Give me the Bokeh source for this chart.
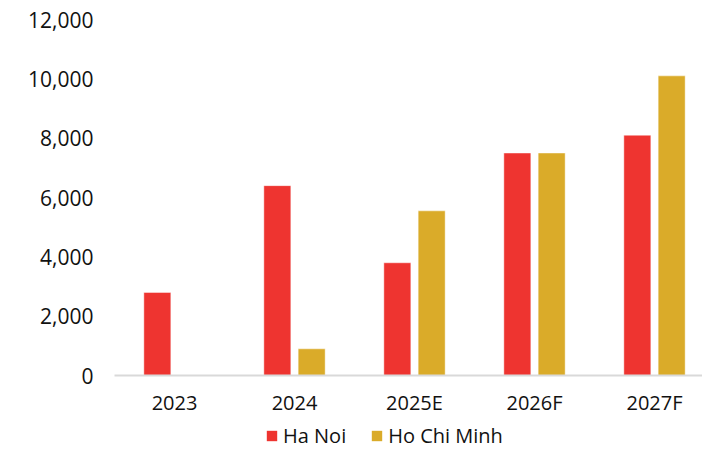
from bokeh.plotting import figure
from bokeh.layouts import column
from bokeh.models import (ColumnDataSource, Range1d, NumeralTickFormatter, FixedTicker,
                          Legend, LegendItem)
from bokeh.transform import dodge
from bokeh.embed import file_html
from bokeh.resources import INLINE

categories = ["2023", "2024", "2025E", "2026F", "2027F"]
ha_noi = [2800, 6400, 3800, 7500, 8100]
ho_chi_minh = [0, 900, 5550, 7500, 10100]
y_ticks = [0, 2000, 4000, 6000, 8000, 10000, 12000]
series_names = ["Ha Noi", "Ho Chi Minh"]

RED = "#EE3430"
GOLD = "#DAAB29"
FONT = "Open Sans"
TXT = "#111111"

src = ColumnDataSource(dict(
    x=list(range(len(categories))),
    hn=ha_noi,
    hcm=ho_chi_minh,
))

p = figure(width=702, height=422, output_backend="svg", toolbar_location=None,
           x_range=Range1d(-0.5, 4.4), y_range=Range1d(0, 12000),
           min_border_left=114, min_border_right=0, min_border_top=19,
           min_border_bottom=47)
p.outline_line_color = None
p.xgrid.visible = False
p.ygrid.visible = False

p.vbar(x=dodge("x", -0.143, range=p.x_range), top="hn", width=0.225, source=src,
       fill_color=RED, line_color="white", line_alpha=0.45, line_width=1)
p.vbar(x=dodge("x", 0.143, range=p.x_range), top="hcm", width=0.225, source=src,
       fill_color=GOLD, line_color="white", line_alpha=0.45, line_width=1)

xa = p.xaxis[0]
xa.ticker = FixedTicker(ticks=list(range(len(categories))))
xa.major_label_overrides = {i: c for i, c in enumerate(categories)}
xa.axis_line_color = "#D9D9D9"
xa.axis_line_width = 2
xa.major_tick_line_color = None
xa.minor_tick_line_color = None
xa.major_tick_out = 0
xa.major_label_standoff = 13
xa.major_label_text_font = FONT
xa.major_label_text_font_size = "20px"
xa.major_label_text_color = TXT

ya = p.yaxis[0]
ya.ticker = FixedTicker(ticks=y_ticks)
ya.formatter = NumeralTickFormatter(format="0,0")
ya.axis_line_color = None
ya.major_tick_line_color = None
ya.minor_tick_line_color = None
ya.major_tick_out = 0
ya.major_label_standoff = 21
ya.major_label_text_font = FONT
ya.major_label_text_font_size = "21px"
ya.major_label_text_color = TXT

# legend strip below the chart (frames are aligned with the chart above)
q = figure(width=702, height=27, output_backend="svg", toolbar_location=None,
           x_axis_type=None, y_axis_type=None, min_border=0,
           x_range=Range1d(0, 1), y_range=Range1d(0, 1))
q.outline_line_color = None
q.xgrid.visible = False
q.ygrid.visible = False
nan = float("nan")
hidden = ColumnDataSource(dict(x=[nan], top=[nan]))
l1 = q.vbar(x="x", top="top", width=0.1, source=hidden, fill_color=RED, line_color=None)
l2 = q.vbar(x="x", top="top", width=0.1, source=hidden, fill_color=GOLD, line_color=None)

lg = Legend(items=[LegendItem(label=series_names[0], renderers=[l1]),
                   LegendItem(label=series_names[1], renderers=[l2])])
lg.orientation = "horizontal"
lg.location = (151, 0)
lg.glyph_width = 13
lg.glyph_height = 13
lg.label_standoff = 5
lg.spacing = 24
lg.padding = 0
lg.margin = 0
lg.border_line_color = None
lg.background_fill_alpha = 0
lg.label_text_font = FONT
lg.label_text_font_size = "20px"
lg.label_text_color = TXT
q.add_layout(lg, "center")

layout = column(p, q, spacing=0)
open("out.html", "w").write(file_html(layout, INLINE))
